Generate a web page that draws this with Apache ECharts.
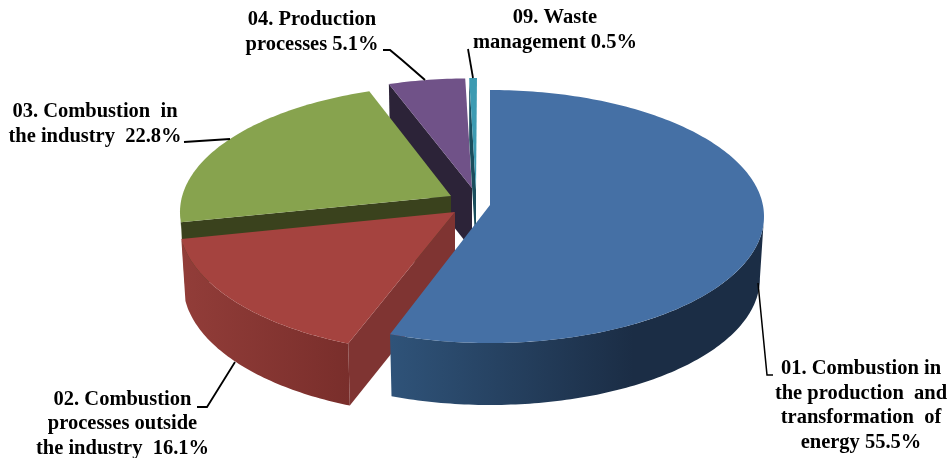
<!DOCTYPE html>
<html>
<head>
<meta charset="utf-8">
<script src="https://cdn.jsdelivr.net/npm/echarts@6/dist/echarts.min.js"></script>
<style>html,body{margin:0;padding:0;background:#fff}#c{width:950px;height:458px}</style>
</head>
<body>
<div id="c"></div>
<script>
// ---- data ----
const categories = ['01','02','03','04','09'];
const values = [55.5, 16.1, 22.8, 5.1, 0.5];
const labelTexts = [
  '01. Combustion in\nthe production  and\ntransformation  of\nenergy ',
  '02. Combustion\nprocesses outside\nthe industry  ',
  '03. Combustion  in\nthe industry  ',
  '04. Production\nprocesses ',
  '09. Waste\nmanagement '
];

// ---- layout (not data) ----
const depth = 62, bottomScale = 0.985;
const ellipses = [
  {cx:490, cy:216.5, rx:274, ry:126.5, ax:490, ay:205, t0:0,   t1:1.6},
  {cx:456, cy:222,   rx:277, ry:132,   ax:455, ay:212, t0:3.1, t1:4.8},
  {cx:455, cy:212,   rx:275, ry:127,   ax:451, ay:196, t0:7.6, t1:2},
  {cx:470, cy:205.4, rx:275, ry:127,   ax:472, ay:188, t0:3,   t1:0.8},
  {cx:473, cy:205,   rx:275, ry:127,   ax:476, ay:190, t0:1,   t1:0.83}
];
const topColors = ['#4570a5','#a5433f','#87a34e','#705288','#3d9bb2'];
const faceColors = ['#1b2d45','#7f3432','#3a421d','#2c2338','#1a4d5c'];
const wallStops = [
  [[0,'#2f5379'],[0.65,'#1b2d45'],[1,'#1b2d45']],
  [[0,'#923d39'],[1,'#792e2b']],
  [[0,'#5a6f33'],[1,'#5a6f33']],
  [[0,'#4b3760'],[1,'#4b3760']],
  [[0,'#2a6d7d'],[1,'#2a6d7d']]
];
const labelBoxes = [
  {x:861, y:405.5},
  {x:122.5, y:424},
  {x:95,  y:124},
  {x:312, y:32},
  {x:555, y:30}
];
const leaders = [
  [[773,375],[767,375],[758,283]],
  [[197,407],[207,407],[235,362]],
  [[184,142],[230,139]],
  [[383,50],[390,50],[402,60],[425,80]],
  [[468,49],[473,78]]
];
const leaderWidths = [1.5,1.8,2,2,1.8];
const drawOrder = [3,4,2,1,0];

// angles accumulated from the values, clockwise from 12 o'clock
const total = values.reduce((a,b)=>a+b,0);
let acc = 0;
const startAngles = values.map(v=>{const s=acc; acc+=v/total*360; return s;});
const endAngles = startAngles.map((s,i)=>s+values[i]/total*360);

const rad = d => d*Math.PI/180;
function pt(e,phi,bottom){
  const k = bottom ? bottomScale : 1;
  return [e.cx + e.rx*k*Math.sin(rad(phi)), e.cy + (bottom?depth:0) - e.ry*Math.cos(rad(phi))];
}
function arc(e,a,b,bottom){
  const out=[], n=Math.max(2,Math.ceil(Math.abs(b-a)));
  for(let i=0;i<=n;i++) out.push(pt(e,a+(b-a)*i/n,bottom));
  return out;
}
function renderSlice(params, api){
  const i = api.value(0);
  const e = ellipses[i];
  const a0 = startAngles[i]+e.t0, a1 = endAngles[i]+e.t1;
  const children=[];
  // cut face
  const s0=pt(e,a0,false), s1=pt(e,a0,true);
  children.push({type:'polygon',shape:{points:[s0,[e.ax,e.ay],[e.ax,e.ay+depth],s1]},style:{fill:faceColors[i]}});
  // outer wall (front half only)
  const w0=Math.max(a0,90), w1=Math.min(a1,270);
  if(w1>w0){
    children.push({type:'polygon',
      shape:{points:arc(e,w0,w1,false).concat(arc(e,w1,w0,true))},
      style:{fill:{type:'linear',x:0,y:0,x2:1,y2:0,
        colorStops:wallStops[i].map(s=>({offset:s[0],color:s[1]}))}}});
  }
  // top face
  children.push({type:'polygon',
    shape:{points:[[e.ax,e.ay]].concat(arc(e,a0,a1,false))},
    style:{fill:topColors[i]}});
  // leader and label
  children.push({type:'polyline',shape:{points:leaders[i]},style:{stroke:'#000',lineWidth:leaderWidths[i],fill:null}});
  children.push({type:'text',z2:5,x:labelBoxes[i].x,y:labelBoxes[i].y,style:{
    text:labelTexts[i]+values[i].toFixed(1)+'%',
    fill:'#000',align:'center',verticalAlign:'middle',
    font:'bold 20.5px "Liberation Serif"',lineHeight:24.5}});
  return {type:'group',children};
}

const chart = echarts.init(document.getElementById('c'),null,{renderer:'canvas'});
chart.setOption({
  animation:false,
  backgroundColor:'#fff',
  series:[{
    type:'custom',
    coordinateSystem:'none',
    silent:true,
    renderItem:renderSlice,
    data:drawOrder.map(i=>[i,values[i],categories[i]])
  }]
});
</script>
</body>
</html>
